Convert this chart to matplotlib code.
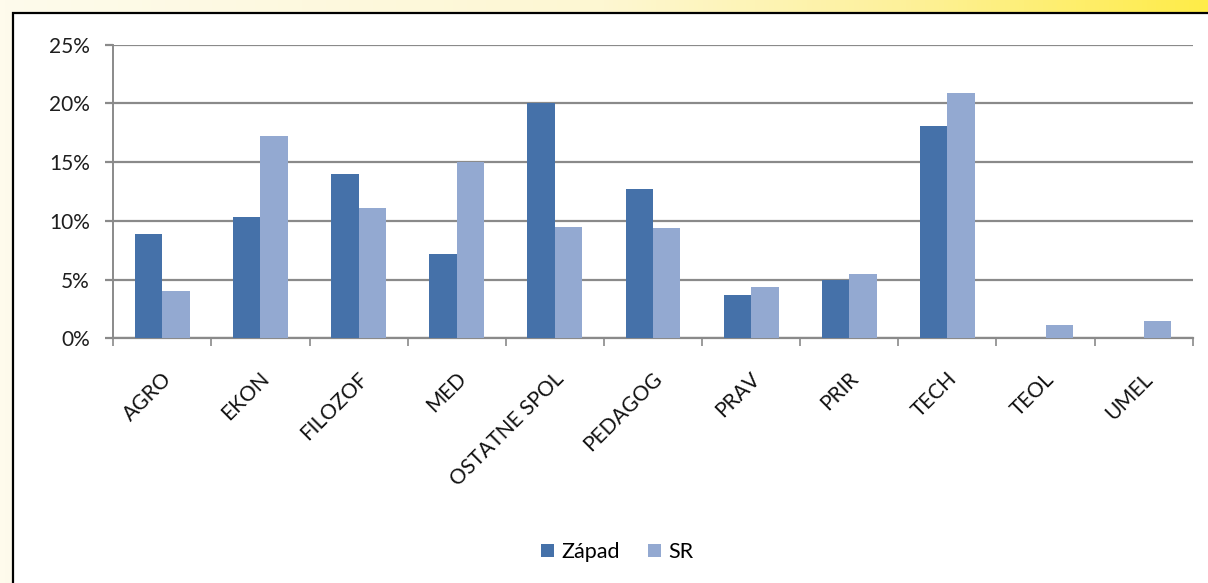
import numpy as np
import matplotlib
matplotlib.use("Agg")
import matplotlib.pyplot as plt
from matplotlib.colors import LinearSegmentedColormap
from matplotlib.patches import Rectangle
from matplotlib.transforms import ScaledTranslation

plt.rcParams['font.family'] = ['Lato', 'DejaVu Sans']

categories = ["AGRO", "EKON", "FILOZOF", "MED", "OSTATNE SPOL", "PEDAGOG",
              "PRAV", "PRIR", "TECH", "TEOL", "UMEL"]
zapad = [8.9, 10.3, 14.0, 7.15, 20.0, 12.7, 3.7, 5.0, 18.1, 0.0, 0.0]
sr = [4.0, 17.25, 11.1, 15.0, 9.5, 9.35, 4.35, 5.45, 20.9, 1.1, 1.5]
yticks = [0, 5, 10, 15, 20, 25]

W, H = 1208, 583
fig = plt.figure(figsize=(W / 100, H / 100), dpi=100)

# yellow gradient page background + white framed box
bg = fig.add_axes([0, 0, 1, 1], zorder=-1)
cmap = LinearSegmentedColormap.from_list(
    "page", [(0, "#fefbec"), (0.5, "#fdf7d2"), (0.75, "#fdf19a"), (1, "#ffec48")])
grad = np.linspace(0, 1, 256).reshape(1, -1)
bg.imshow(grad, aspect='auto', cmap=cmap, extent=[0, W, 0, H])
bg.add_patch(Rectangle((12.5, -20), W + 40, H - 13 + 20, facecolor='white',
                       edgecolor='black', lw=1.6))
bg.set_xlim(0, W)
bg.set_ylim(0, H)
bg.axis('off')

ax = fig.add_axes([113.3 / W, 1 - 338.3 / H, (1192.7 - 113.3) / W, (338.3 - 44.6) / H])
ax.set_facecolor('none')

x = np.arange(len(categories))
bw = 0.28
ax.bar(x - bw / 2, zapad, bw, color="#4571a9", label="Západ", zorder=3)
ax.bar(x + bw / 2, sr, bw, color="#93a9d1", label="SR", zorder=3)

ax.set_xlim(-0.5, len(categories) - 0.5)
ax.set_ylim(0, 25)
ax.set_yticks(yticks)
ax.set_yticklabels([f"{v}%" for v in yticks], fontsize=15, color="#1e1e1e")
ax.yaxis.grid(True, color="#8a8a8a", lw=1.6, zorder=0)
ax.set_axisbelow(True)

ax.set_xticks(x)
ax.set_xticklabels(categories, fontsize=15, color="#111111", rotation=45,
                   ha='right', va='center', rotation_mode='anchor')
ax.set_xticks(np.arange(len(categories) + 1) - 0.5, minor=True)
ax.tick_params(axis='x', which='major', length=0, pad=27)
ax.tick_params(axis='x', which='minor', length=6, color="#8a8a8a", width=1.2)
ax.tick_params(axis='y', length=6, color="#8a8a8a", width=1.6, pad=11)
for lbl in ax.get_xticklabels():
    lbl.set_transform(lbl.get_transform() + ScaledTranslation(0.06, 0, fig.dpi_scale_trans))

for s in ['top', 'right']:
    ax.spines[s].set_visible(False)
ax.spines['left'].set_color("#8a8a8a")
ax.spines['bottom'].set_color("#8a8a8a")
ax.spines['left'].set_linewidth(1.4)
ax.spines['bottom'].set_linewidth(1.6)

fig.legend(loc='center', bbox_to_anchor=(0.511, 0.053), ncol=2, frameon=False,
           fontsize=15.5, handlelength=0.6, handleheight=0.6, handletextpad=0.35,
           columnspacing=1.3)

fig.savefig("out.png", dpi=100)
